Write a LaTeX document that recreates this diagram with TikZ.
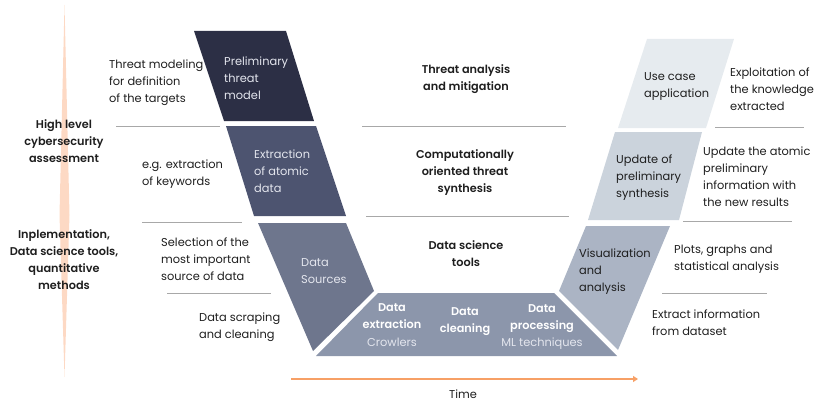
\documentclass[tikz,border=0pt]{standalone}
\usepackage{fontspec}
\setmainfont{Poppins}[BoldFont={Poppins SemiBold}]
\usetikzlibrary{arrows.meta}
\definecolor{cA}{HTML}{2C2F45}
\definecolor{cB}{HTML}{4D5470}
\definecolor{cC}{HTML}{6E768D}
\definecolor{cD}{HTML}{8C96AB}
\definecolor{cE}{HTML}{ABB4C4}
\definecolor{cF}{HTML}{CBD3DC}
\definecolor{cG}{HTML}{E6EBEF}
\definecolor{peach}{HTML}{FDD9C4}
\definecolor{sepgray}{HTML}{A8A8A8}
\definecolor{timeor}{HTML}{F7A066}
\definecolor{lighttxt}{HTML}{E4E6EE}
\definecolor{darktxt}{HTML}{1E1E1E}
\tikzset{
  txt/.style={font=\fontsize{11.4}{17}\selectfont, inner sep=0pt, text=darktxt},
  desc/.style={txt, anchor=west, align=left},
  boldtxt/.style={txt, font=\fontsize{11.3}{17}\selectfont\bfseries, align=center},
  inshape/.style={desc, text=lighttxt},
  sep/.style={draw=sepgray, line width=0.8pt},
}
\begin{document}
\begin{tikzpicture}[x=1pt,y=-1pt]
\useasboundingbox (0,0) rectangle (822,404);
% spindle
\fill[peach] (64.5,5) -- (69.5,215) -- (64.5,377) -- (59.5,215) -- cycle;
% shapes
\fill[cA] (194,31) -- (286,31) -- (314,121) -- (224,121) -- cycle;
\fill[cB] (226,126) -- (316,126) -- (346,216) -- (254,216) -- cycle;
\fill[cC] (258,223) -- (346,223) -- (374,291) -- (313,351) -- cycle;
\fill[cD] (378,293) -- (554,293) -- (617,356) -- (316,356) -- cycle;
\fill[cE] (586,226) -- (670,226) -- (618,350) -- (559,291) -- cycle;
\fill[cF] (615,132) -- (702,132) -- (679,220) -- (588,220) -- cycle;
\fill[cG] (647,39) -- (734,39) -- (706,128) -- (618,128) -- cycle;
% separators
\draw[sep] (116,126) -- (220,126);
\draw[sep] (362,126) -- (566,126);
\draw[sep] (715,127) -- (804,127);
\draw[sep] (142,222) -- (242,222);
\draw[sep] (366,216) -- (569,216);
\draw[sep] (683,221) -- (792,221);
\draw[sep] (167,293) -- (271,293);
\draw[sep] (662,293) -- (767,293);
% time arrow
\coordinate (t0) at (291,379);
\coordinate (t1) at (638,379);
\draw[timeor, line width=1.4pt, -{Triangle[length=5pt,width=6pt]}] (t0) -- (t1);
\node[txt] (time) at (463,394) {Time};
% left bold
\node[boldtxt] (hl) at (64,141) {High level\\cybersecurity\\assessment};
\node[boldtxt] (impl) at (64,259.5) {Inplementation,\\Data science tools,\\quantitative\\methods};
% left descriptions
\node[desc] (d1) at (109,83) {Threat modeling\\for definition\\of the targets};
\node[desc] (d2) at (142,174) {e.g. extraction\\of keywords};
\node[desc] (d3) at (161,259) {Selection of the\\most important\\source of data};
\node[desc] (d4) at (199,327.5) {Data scraping\\and cleaning};
% shape texts
\node[inshape] (s1) at (224,78) {Preliminary\\threat\\model};
\node[inshape] (s2) at (254,171) {Extraction\\of atomic\\data};
\node[inshape] (s3) at (301,271.5) {Data\\Sources};
\node[boldtxt, text=white] (b1) at (392,316.5) {Data\\extraction};
\node[txt, text=lighttxt] (b1s) at (392,342) {Crowlers};
\node[boldtxt, text=white] (b2) at (465,321.5) {Data\\cleaning};
\node[boldtxt, text=white] (b3) at (542,318.5) {Data\\processing};
\node[txt, text=lighttxt] (b3s) at (542,344) {ML techniques};
\node[desc] (s5) at (579,272) {Visualization\\and\\analysis};
\node[desc] (s6) at (616,178) {Update of\\preliminary\\synthesis};
\node[desc] (s7) at (644,86.5) {Use case\\application};
% right descriptions
\node[desc] (r1) at (730,89) {Exploitation of\\the knowledge\\extracted};
\node[desc] (r2) at (703,176.5) {Update the atomic\\preliminary\\information with\\the new results};
\node[desc] (r3) at (674,259.5) {Plots, graphs and\\statistical analysis};
\node[desc] (r4) at (652,322.5) {Extract information\\from dataset};
% middle bold
\node[boldtxt] (m1) at (466,79.5) {Threat analysis\\and mitigation};
\node[boldtxt] (m2) at (465,173) {Computationally\\oriented threat\\synthesis};
\node[boldtxt] (m3) at (466,253.5) {Data science\\tools};
\end{tikzpicture}
\end{document}
